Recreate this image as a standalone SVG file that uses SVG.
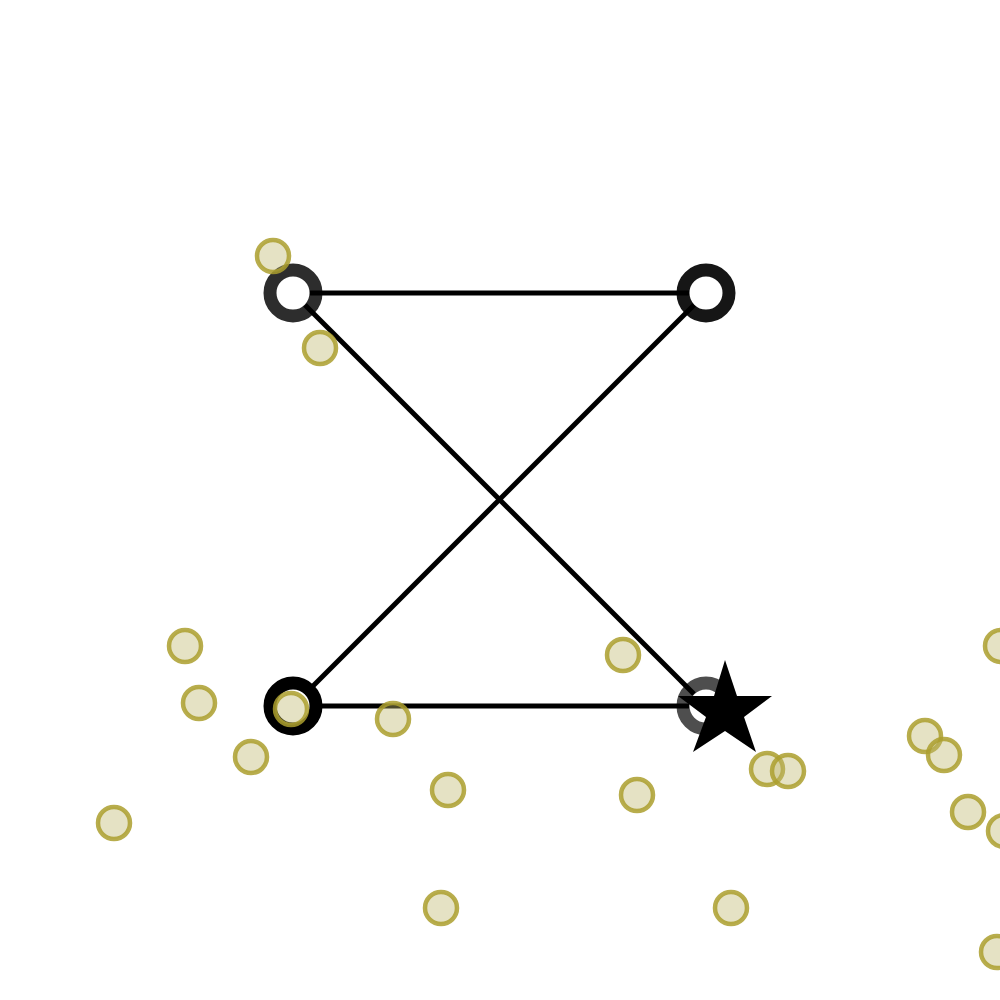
<svg xmlns="http://www.w3.org/2000/svg" width="1000" height="1000" viewBox="0 0 1000 1000">
<style>
.node{fill:#fff;stroke-width:13}
.edge{stroke:#000;stroke-width:5;fill:none}
.pt{fill:#bdb76b;fill-opacity:0.4;stroke:#ab9f2e;stroke-opacity:0.85;stroke-width:4.5}
</style>
<rect width="1000" height="1000" fill="#fff"/>
<g id="node-a"><circle class="node" cx="293" cy="293" r="23" stroke="#222" stroke-opacity="0.95"/></g>
<g id="node-b"><circle class="node" cx="706" cy="293" r="23" stroke="#111" stroke-opacity="0.98"/></g>
<g id="node-c"><circle class="node" cx="293" cy="706" r="23" stroke="#000"/></g>
<g id="node-d"><circle class="node" cx="706" cy="706" r="23" stroke="#444" stroke-opacity="0.95"/></g>
<g id="connectors">
<line class="edge" x1="310" y1="293" x2="689" y2="293"/>
<line class="edge" x1="305" y1="305" x2="694" y2="694"/>
<line class="edge" x1="694" y1="305" x2="305" y2="694"/>
<line class="edge" x1="310" y1="706" x2="689" y2="706"/>
</g>
<g id="star"><polygon fill="#000" points="725,660 737,696 772,696 744,717 756,752 725,731 693,752 706,717 678,696 714,696"/></g>
<g id="points">
<circle class="pt" cx="273" cy="256" r="16"/>
<circle class="pt" cx="320" cy="348" r="16"/>
<circle class="pt" cx="185" cy="646" r="16"/>
<circle class="pt" cx="199" cy="703" r="16"/>
<circle class="pt" cx="251" cy="757" r="16"/>
<circle class="pt" cx="114" cy="823" r="16"/>
<circle class="pt" cx="291" cy="709" r="16"/>
<circle class="pt" cx="393" cy="719" r="16"/>
<circle class="pt" cx="448" cy="790" r="16"/>
<circle class="pt" cx="441" cy="908" r="16"/>
<circle class="pt" cx="623" cy="655" r="16"/>
<circle class="pt" cx="637" cy="795" r="16"/>
<circle class="pt" cx="731" cy="908" r="16"/>
<circle class="pt" cx="767" cy="769" r="16"/>
<circle class="pt" cx="788" cy="771" r="16"/>
<circle class="pt" cx="925" cy="736" r="16"/>
<circle class="pt" cx="944" cy="755" r="16"/>
<circle class="pt" cx="968" cy="812" r="16"/>
<circle class="pt" cx="1004" cy="831" r="16"/>
<circle class="pt" cx="1001" cy="646" r="16"/>
<circle class="pt" cx="997" cy="952" r="16"/>
</g>
</svg>
